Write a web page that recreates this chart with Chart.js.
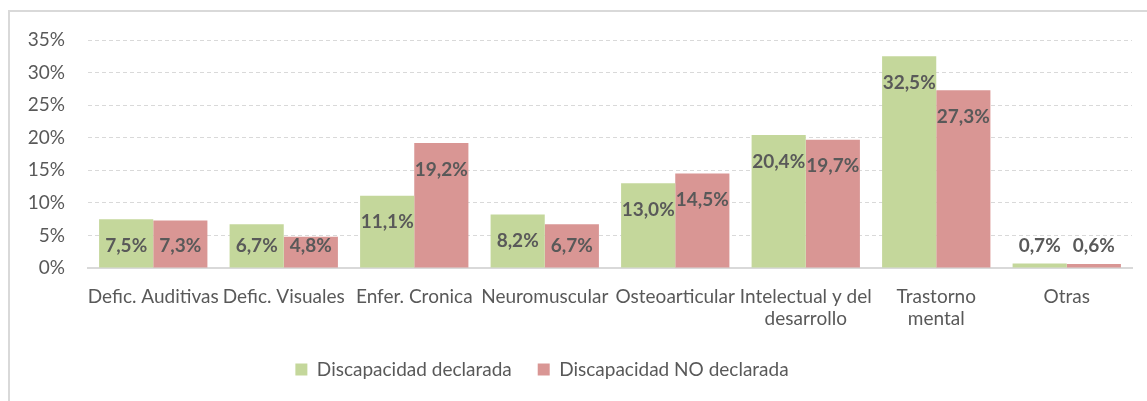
<!DOCTYPE html>
<html lang="es">
<head>
<meta charset="utf-8">
<title>Tipo de discapacidad</title>
<script src="https://cdn.jsdelivr.net/npm/chart.js@4.4.1/dist/chart.umd.min.js"></script>
<style>
    html, body {
        margin: 0;
        padding: 0;
        background: #ffffff;
        overflow: hidden;
    }
    .frame {
        position: absolute;
        left: 8px;
        top: 10px;
        width: 1200px;
        height: 450px;
        border-left: 2px solid #d9d9d9;
        border-top: 2px solid #d9d9d9;
    }
    #chart {
        position: absolute;
        left: 0;
        top: 0;
    }
</style>
</head>
<body>
<div class="frame"></div>
<canvas id="chart" width="1147" height="401"></canvas>
<script>
const categories = [
    'Defic. Auditivas',
    'Defic. Visuales',
    'Enfer. Cronica',
    'Neuromuscular',
    'Osteoarticular',
    ['Intelectual y del', 'desarrollo'],
    ['Trastorno', 'mental'],
    'Otras'
];
const declarada = [7.5, 6.7, 11.1, 8.2, 13.0, 20.4, 32.5, 0.7];
const noDeclarada = [7.3, 4.8, 19.2, 6.7, 14.5, 19.7, 27.3, 0.6];
const yTicks = [0, 5, 10, 15, 20, 25, 30, 35];

const textColor = '#595959';
const fontFamily = 'Lato, "Open Sans", sans-serif';

const fmtPct = v => v.toFixed(1).replace('.', ',') + '%';

// value labels sit just inside the top of each bar, never lower than the baseline row
const barLabels = {
    id: 'barLabels',
    afterDatasetsDraw(chart) {
        const ctx = chart.ctx;
        const base = chart.scales.y.getPixelForValue(0);
        ctx.save();
        ctx.font = 'bold 19px ' + fontFamily;
        ctx.fillStyle = textColor;
        ctx.textAlign = 'center';
        ctx.textBaseline = 'middle';
        chart.data.datasets.forEach((ds, i) => {
            chart.getDatasetMeta(i).data.forEach((bar, j) => {
                const y = Math.min(bar.y + 26.5, base - 22);
                ctx.fillText(fmtPct(ds.data[j]), bar.x, y);
            });
        });
        ctx.restore();
    }
};

// the legend row is centred a bit left of the plot
const legendShift = {
    id: 'legendShift',
    afterLayout(chart) {
        if (chart.legend) {
            chart.legend.left -= 24;
            chart.legend.right -= 24;
        }
    }
};

new Chart(document.getElementById('chart'), {
    type: 'bar',
    data: {
        labels: categories,
        datasets: [{
            label: 'Discapacidad declarada',
            data: declarada,
            backgroundColor: '#c4d79b'
        }, {
            label: 'Discapacidad NO declarada',
            data: noDeclarada,
            backgroundColor: '#d99694'
        }]
    },
    options: {
        responsive: false,
        animation: false,
        devicePixelRatio: 1,
        layout: {
            padding: { top: 40, right: 15, bottom: 12, left: 0 }
        },
        datasets: {
            bar: {
                categoryPercentage: 0.83,
                barPercentage: 1.0
            }
        },
        plugins: {
            legend: {
                position: 'bottom',
                labels: {
                    boxWidth: 12,
                    boxHeight: 12,
                    padding: 26,
                    color: textColor,
                    font: { family: fontFamily, size: 19 }
                }
            },
            tooltip: { enabled: false }
        },
        scales: {
            x: {
                grid: { display: false, drawTicks: false },
                border: { display: true, color: '#d9d9d9', width: 2 },
                ticks: {
                    color: textColor,
                    padding: 17,
                    maxRotation: 0,
                    autoSkip: false,
                    font: { family: fontFamily, size: 19, lineHeight: 1.2 }
                },
                afterFit: scale => { scale.height = 66; }
            },
            y: {
                min: 0,
                max: 35,
                afterBuildTicks: scale => {
                    scale.ticks = yTicks.map(v => ({ value: v }));
                },
                grid: {
                    color: '#d9d9d9',
                    lineWidth: 1,
                    drawTicks: false
                },
                border: { display: false, dash: [4, 3] },
                ticks: {
                    color: textColor,
                    padding: 23,
                    font: { family: fontFamily, size: 19 },
                    callback: v => v + '%'
                },
                afterFit: scale => { scale.width = 88; }
            }
        }
    },
    plugins: [barLabels, legendShift]
});
</script>
</body>
</html>
